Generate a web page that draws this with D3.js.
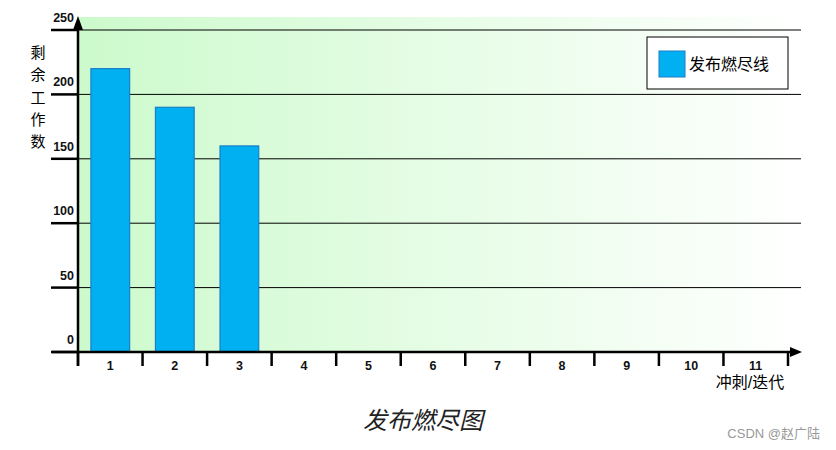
<!DOCTYPE html>
<html>
<head>
<meta charset="utf-8">
<script src="https://cdn.jsdelivr.net/npm/d3@7"></script>
<style>
  body { margin: 0; background: #fff; }
  text { font-family: Arial, "Liberation Sans", "Noto Sans CJK SC", sans-serif; }
</style>
</head>
<body>
<div id="chart"></div>
<script>
const sprints = ['1', '2', '3', '4', '5', '6', '7', '8', '9', '10', '11'];
const remaining = [220, 190, 160];
const yTicks = [0, 50, 100, 150, 200, 250];
const seriesName = '发布燃尽线';
const yTitle = '剩余工作数';
const xTitle = '冲刺/迭代';
const chartTitle = '发布燃尽图';

const width = 836, height = 450;
const plotLeft = 78, plotRight = 788, plotTop = 30, plotBottom = 352;

const svg = d3.select('#chart').append('svg')
  .attr('width', width)
  .attr('height', height);

const x = d3.scaleBand().domain(sprints).range([plotLeft, plotRight]).paddingInner(0.4).paddingOuter(0.2);
const xTickScale = d3.scaleBand().domain(sprints).range([plotLeft, plotRight]);
const y = d3.scaleLinear().domain([0, 250]).range([plotBottom, plotTop]);

// background gradient
const grad = svg.append('defs').append('linearGradient')
  .attr('id', 'bg').attr('x1', 0).attr('x2', 1).attr('y1', 0).attr('y2', 0);
grad.append('stop').attr('offset', '0%').attr('stop-color', '#ccfacc');
grad.append('stop').attr('offset', '100%').attr('stop-color', '#ffffff');

svg.append('rect')
  .attr('x', plotLeft).attr('y', 17)
  .attr('width', 801 - plotLeft).attr('height', plotBottom - 17)
  .attr('fill', 'url(#bg)');

// grid lines + thick ticks
svg.selectAll('.grid').data(yTicks.filter(d => d > 0)).enter()
  .append('line')
  .attr('x1', plotLeft).attr('x2', 801)
  .attr('y1', d => y(d)).attr('y2', d => y(d))
  .attr('stroke', '#000').attr('stroke-width', 1);

svg.selectAll('.ytick').data(yTicks).enter()
  .append('line')
  .attr('x1', 51).attr('x2', plotLeft)
  .attr('y1', d => y(d)).attr('y2', d => y(d))
  .attr('stroke', '#000').attr('stroke-width', 2.5);

svg.selectAll('.ylab').data(yTicks).enter()
  .append('text')
  .attr('x', 74).attr('y', d => y(d) - 8)
  .attr('text-anchor', 'end')
  .attr('font-size', 12.5).attr('font-weight', 'bold')
  .attr('fill', '#111')
  .text(d => d);

// bars
svg.selectAll('.bar').data(remaining).enter()
  .append('rect')
  .attr('x', (d, i) => x(sprints[i]))
  .attr('y', d => y(d))
  .attr('width', x.bandwidth())
  .attr('height', d => plotBottom - y(d))
  .attr('fill', '#00b0f0')
  .attr('stroke', '#1a7fc8')
  .attr('stroke-width', 1.2);

// x axis
svg.append('line')
  .attr('x1', plotLeft - 26).attr('x2', 792)
  .attr('y1', plotBottom).attr('y2', plotBottom)
  .attr('stroke', '#000').attr('stroke-width', 2.5);
svg.append('path')
  .attr('d', `M790,${plotBottom - 5}L802,${plotBottom}L790,${plotBottom + 5}Z`)
  .attr('fill', '#000');

const xTickPos = sprints.map(s => xTickScale(s)).concat([plotRight]);
svg.selectAll('.xtick').data(xTickPos).enter()
  .append('line')
  .attr('x1', d => d).attr('x2', d => d)
  .attr('y1', plotBottom).attr('y2', plotBottom + 14)
  .attr('stroke', '#000').attr('stroke-width', 2.5);

svg.selectAll('.xlab').data(sprints).enter()
  .append('text')
  .attr('x', d => xTickScale(d) + xTickScale.bandwidth() / 2)
  .attr('y', plotBottom + 18)
  .attr('text-anchor', 'middle')
  .attr('font-size', 12.5).attr('font-weight', 'bold')
  .attr('fill', '#111')
  .text(d => d);

// y axis
svg.append('line')
  .attr('x1', plotLeft).attr('x2', plotLeft)
  .attr('y1', 26).attr('y2', plotBottom + 14)
  .attr('stroke', '#000').attr('stroke-width', 2.5);
svg.append('path')
  .attr('d', `M${plotLeft - 5},30L${plotLeft},16L${plotLeft + 5},30Z`)
  .attr('fill', '#000');

// axis titles
svg.append('text')
  .selectAll('tspan').data(yTitle.split('')).enter()
  .append('tspan')
  .attr('x', 38).attr('y', (d, i) => 58 + i * 22.3)
  .attr('text-anchor', 'middle')
  .attr('font-size', 15)
  .attr('font-family', '"Noto Sans CJK SC", sans-serif')
  .attr('fill', '#000')
  .text(d => d);

svg.append('text')
  .attr('x', 750).attr('y', 388)
  .attr('text-anchor', 'middle')
  .attr('font-size', 16)
  .attr('font-family', '"Noto Sans CJK SC", sans-serif')
  .attr('fill', '#000')
  .text(xTitle);

// legend
const legend = svg.append('g');
legend.append('rect')
  .attr('x', 647).attr('y', 37).attr('width', 141).attr('height', 52)
  .attr('fill', '#fff').attr('stroke', '#000').attr('stroke-width', 1);
legend.append('rect')
  .attr('x', 659).attr('y', 51).attr('width', 26).attr('height', 26)
  .attr('fill', '#00b0f0').attr('stroke', '#1a7fc8').attr('stroke-width', 1);
legend.append('text')
  .attr('x', 689).attr('y', 70)
  .attr('font-size', 16)
  .attr('font-family', '"Noto Sans CJK SC", sans-serif')
  .attr('fill', '#000')
  .text(seriesName);

// chart title
svg.append('text')
  .attr('x', 423).attr('y', 429)
  .attr('text-anchor', 'middle')
  .attr('font-size', 24)
  .attr('font-style', 'italic')
  .attr('font-family', '"Noto Sans CJK SC", sans-serif')
  .attr('fill', '#222')
  .text(chartTitle);

// watermark
svg.append('text')
  .attr('x', 820).attr('y', 438)
  .attr('text-anchor', 'end')
  .attr('font-size', 13)
  .attr('font-family', '"Noto Sans CJK SC", sans-serif')
  .attr('fill', '#999')
  .text('CSDN @赵广陆');
</script>
</body>
</html>
